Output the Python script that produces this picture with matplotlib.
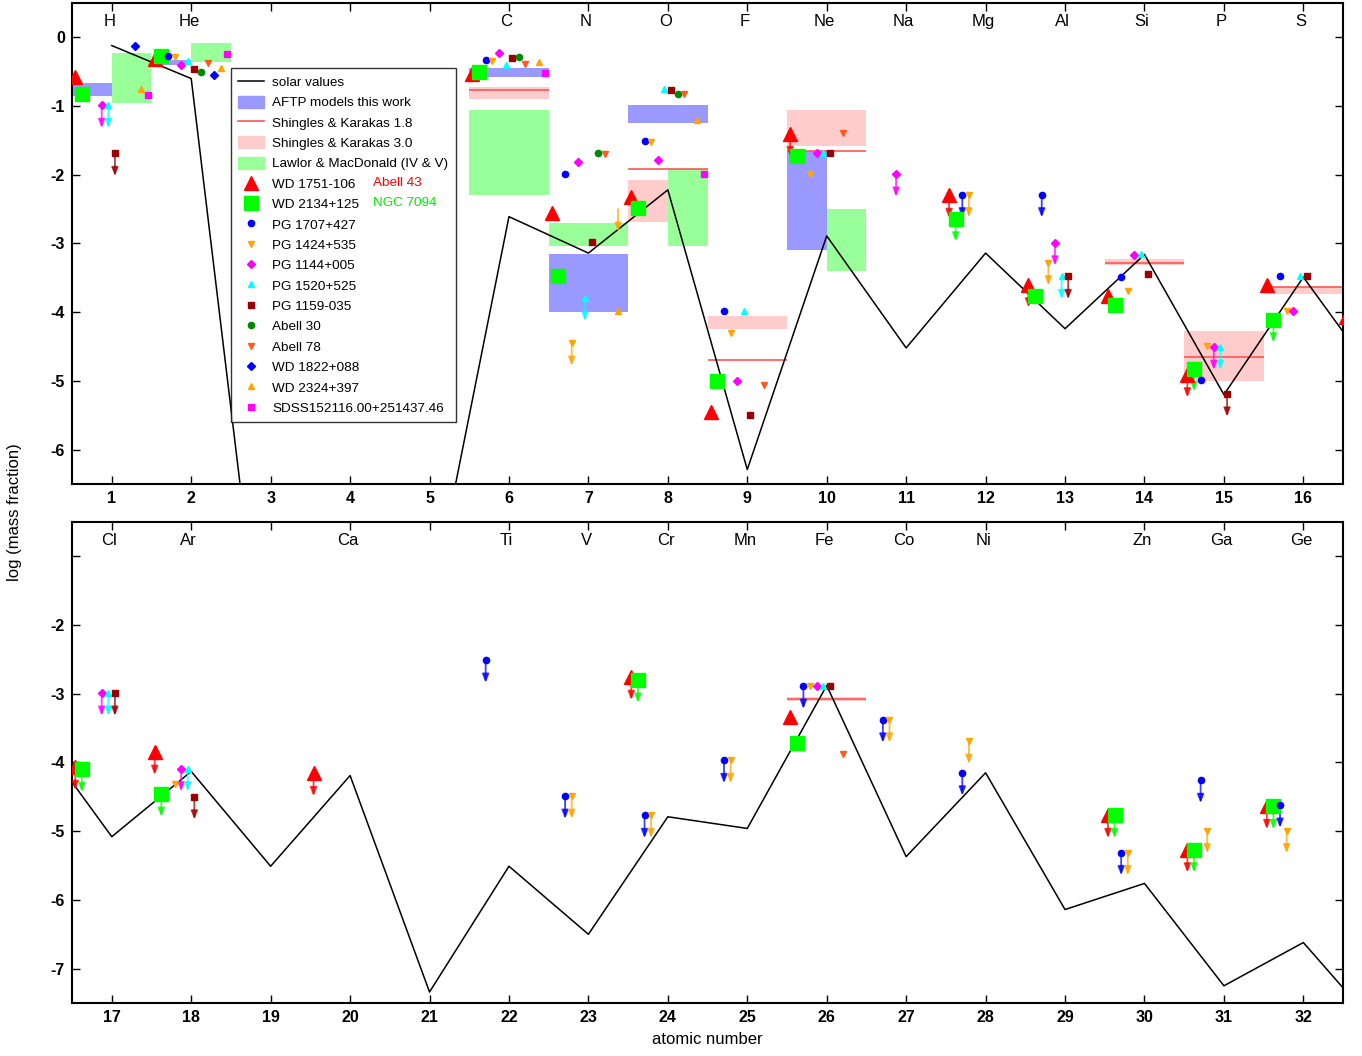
import matplotlib
matplotlib.use('Agg')
import matplotlib.pyplot as plt
from matplotlib.lines import Line2D
from matplotlib.patches import Patch

plt.rcParams['font.family'] = ['Liberation Sans', 'DejaVu Sans']

# solar values, Z = 1..33
solar_z = list(range(1, 34))
solar_logx = [-0.12, -0.60, -10.2, -9.8, -8.4, -2.61, -3.14, -2.22, -6.29, -2.89,
              -4.52, -3.14, -4.24, -3.16, -5.20, -3.49, -5.08, -4.13, -5.51, -4.19,
              -7.34, -5.51, -6.50, -4.79, -4.96, -2.88, -5.37, -4.15, -6.14, -5.76,
              -7.25, -6.62, -7.94]

top_names = {1: 'H', 2: 'He', 6: 'C', 7: 'N', 8: 'O', 9: 'F', 10: 'Ne', 11: 'Na',
             12: 'Mg', 13: 'Al', 14: 'Si', 15: 'P', 16: 'S'}
bottom_names = {17: 'Cl', 18: 'Ar', 20: 'Ca', 22: 'Ti', 23: 'V', 24: 'Cr', 25: 'Mn',
                26: 'Fe', 27: 'Co', 28: 'Ni', 30: 'Zn', 31: 'Ga', 32: 'Ge'}

# model ranges (Z, part of the cell, low, high)
aftp = [(1, 'left', -0.86, -0.66), (2, 'left', -0.41, -0.335), (6, 'full', -0.58, -0.44),
        (7, 'full', -4.0, -3.15), (8, 'full', -1.25, -0.98), (10, 'left', -3.1, -1.65)]
sk30 = [(6, 'full', -0.9, -0.73), (8, 'left', -2.69, -2.08), (9, 'full', -4.25, -4.06),
        (10, 'full', -1.58, -1.06), (14, 'full', -3.31, -3.22), (15, 'full', -5.0, -4.27),
        (16, 'full', -3.73, -3.64), (26, 'full', -3.11, -3.04)]
sk18 = [(6, -0.76), (8, -1.91), (9, -4.69), (10, -1.65), (14, -3.29), (15, -4.65),
        (16, -3.64), (26, -3.08)]
lawlor = [(1, 'right', -0.96, -0.23), (2, 'right', -0.36, -0.09), (6, 'full', -2.3, -1.06),
          (7, 'full', -3.04, -2.7), (8, 'right', -3.04, -1.92), (10, 'right', -3.4, -2.5)]

# observed abundances (Z, log mass fraction, upper limit)
wd1751 = [(1, -0.58, 0), (2, -0.32, 0), (6, -0.54, 0), (7, -2.56, 0), (8, -2.33, 0),
          (9, -5.45, 0), (10, -1.40, 1), (12, -2.30, 1), (13, -3.60, 1), (14, -3.76, 0),
          (15, -4.91, 1), (16, -3.60, 0), (17, -4.07, 1), (18, -3.85, 1), (20, -4.16, 1),
          (24, -2.76, 1), (26, -3.34, 0), (30, -4.77, 1), (31, -5.27, 1), (32, -4.64, 1)]
wd2134 = [(1, -0.83, 0), (2, -0.27, 0), (6, -0.50, 0), (7, -3.48, 0), (8, -2.48, 0),
          (9, -5.00, 0), (10, -1.72, 0), (12, -2.64, 1), (13, -3.76, 0), (14, -3.90, 0),
          (15, -4.82, 1), (16, -4.11, 1), (17, -4.10, 1), (18, -4.46, 1), (24, -2.80, 1),
          (26, -3.72, 0), (30, -4.77, 1), (31, -5.27, 1), (32, -4.64, 1)]
pg1707 = [(2, -0.27, 0), (6, -0.33, 0), (7, -1.99, 0), (8, -1.51, 0), (9, -3.99, 0),
          (12, -2.29, 1), (13, -2.29, 1), (14, -3.49, 0), (15, -4.98, 0), (16, -3.48, 0),
          (22, -2.51, 1), (23, -4.49, 1), (24, -4.77, 1), (25, -3.97, 1), (26, -2.89, 1),
          (27, -3.38, 1), (28, -4.15, 1), (30, -5.31, 1), (31, -4.26, 1), (32, -4.62, 1)]
pg1424 = [(2, -0.28, 0), (6, -0.34, 0), (7, -4.45, 1), (8, -1.52, 0), (9, -4.30, 0),
          (10, -1.99, 0), (12, -2.29, 1), (13, -3.28, 1), (14, -3.69, 0), (15, -4.49, 0),
          (16, -3.99, 0), (18, -4.31, 0), (23, -4.49, 1), (24, -4.77, 1), (25, -3.97, 1),
          (26, -2.89, 0), (27, -3.38, 1), (28, -3.69, 1), (30, -5.31, 1), (31, -4.99, 1),
          (32, -4.99, 1)]
pg1144 = [(1, -0.99, 1), (2, -0.41, 0), (6, -0.23, 0), (7, -1.81, 0), (8, -1.79, 0),
          (9, -5.00, 0), (10, -1.69, 0), (11, -1.99, 1), (13, -2.99, 1), (14, -3.17, 0),
          (15, -4.51, 1), (16, -3.99, 0), (17, -2.99, 1), (18, -4.09, 1), (26, -2.89, 0)]
pg1520 = [(1, -0.99, 1), (2, -0.35, 0), (6, -0.40, 0), (7, -3.80, 1), (8, -0.75, 0),
          (9, -3.98, 0), (10, -1.68, 0), (13, -3.48, 1), (14, -3.16, 0), (15, -4.51, 1),
          (16, -3.48, 0), (17, -2.99, 1), (18, -4.09, 1), (26, -2.89, 0)]
pg1159 = [(1, -1.69, 1), (2, -0.46, 0), (6, -0.30, 0), (7, -2.98, 0), (8, -0.76, 0),
          (9, -5.49, 0), (10, -1.69, 0), (13, -3.48, 1), (14, -3.44, 0), (15, -5.19, 1),
          (16, -3.48, 0), (17, -2.99, 1), (18, -4.50, 1), (26, -2.89, 0)]
abell30 = [(2, -0.50, 0), (6, -0.29, 0), (7, -1.69, 0), (8, -0.82, 0)]
abell78 = [(2, -0.37, 0), (6, -0.39, 0), (7, -1.70, 0), (8, -0.82, 0), (9, -5.06, 0),
           (10, -1.39, 0), (26, -3.87, 0)]
wd1822 = [(1, -0.13, 0), (2, -0.55, 0)]
wd2324 = [(1, -0.75, 0), (2, -0.44, 0), (6, -0.36, 0), (7, -3.98, 0), (8, -1.20, 0)]
wd2324_arrows = [(7, -2.50)]
sdss1521 = [(1, -0.84, 0), (2, -0.24, 0), (6, -0.52, 0), (8, -1.99, 0)]

stars = [
    ('WD 1751-106', wd1751, '^', '#ff0000', 10),
    ('WD 2134+125', wd2134, 's', '#00ff00', 10),
    ('PG 1707+427', pg1707, 'o', '#0000ff', 4.5),
    ('PG 1424+535', pg1424, 'v', '#ffa500', 4.5),
    ('PG 1144+005', pg1144, 'D', '#ff00ff', 4.5),
    ('PG 1520+525', pg1520, '^', '#00ffff', 4.5),
    ('PG 1159-035', pg1159, 's', '#990000', 5),
    ('Abell 30', abell30, 'o', '#008800', 4.5),
    ('Abell 78', abell78, 'v', '#ff5a1e', 4.5),
    ('WD 1822+088', wd1822, 'D', '#0000ff', 4.5),
    ('WD 2324+397', wd2324, '^', '#ffa500', 4.5),
    ('SDSS152116.00+251437.46', sdss1521, 's', '#ff00ff', 5),
]

c_aftp = '#9999ff'
c_sk30 = '#ffcccc'
c_sk18 = '#ff5555'
c_lawlor = '#99ff99'
arrow_len = 0.33


def cell(z, part):
    if part == 'left':
        return z - 0.5, z
    if part == 'right':
        return z, z + 0.5
    return z - 0.5, z + 0.5


def xpos(z, i):
    return z - 0.46 + i * 0.0833


def down_arrow(ax, x, y, color):
    ax.annotate('', xy=(x, y - arrow_len), xytext=(x, y),
                arrowprops=dict(arrowstyle='-|>,head_length=0.5,head_width=0.2',
                                color=color, lw=1.3, alpha=0.75, shrinkA=0, shrinkB=0),
                zorder=3)


fig = plt.figure(figsize=(13.62, 10.56), dpi=100)
ax1 = fig.add_axes([0.0529, 0.5417, 0.9332, 0.4555])
ax2 = fig.add_axes([0.0529, 0.0502, 0.9332, 0.4555])

panels = [(ax1, 0.5, 16.5, 0.5, -6.5, top_names),
          (ax2, 16.5, 32.5, -0.5, -7.5, bottom_names)]

for ax, x0, x1, ytop, ybot, names in panels:
    for z, part, lo, hi in aftp:
        a, b = cell(z, part)
        ax.fill_between([a, b], lo, hi, color=c_aftp, lw=0, zorder=1)
    for z, part, lo, hi in sk30:
        a, b = cell(z, part)
        ax.fill_between([a, b], lo, hi, color=c_sk30, lw=0, zorder=1)
    for z, part, lo, hi in lawlor:
        a, b = cell(z, part)
        ax.fill_between([a, b], lo, hi, color=c_lawlor, lw=0, zorder=1)
    for z, v in sk18:
        ax.hlines(v, z - 0.5, z + 0.5, color=c_sk18, lw=1.2, zorder=2)

    ax.plot(solar_z, solar_logx, color='black', lw=1.1, zorder=2)

    for i, (name, data, mk, col, ms) in enumerate(stars):
        xs = [xpos(z, i) for z, v, ul in data]
        ys = [v for z, v, ul in data]
        ax.plot(xs, ys, ls='none', marker=mk, color=col, ms=ms, mec=col, zorder=4)
        for z, v, ul in data:
            if ul and x0 < z < x1 + 0.5:
                down_arrow(ax, xpos(z, i), v, col)
    for z, v in wd2324_arrows:
        down_arrow(ax, xpos(z, 10), v, '#ffa500')

    for z, nm in names.items():
        ax.text(z - 0.03, 0.962, nm, transform=ax.get_xaxis_transform(), ha='center',
                va='center', fontsize=12)

    ax.set_xlim(x0, x1)
    ax.set_ylim(ybot, ytop)
    ax.set_xticks(range(int(x0 + 0.5), int(x1 + 0.5)))
    ax.tick_params(direction='in', top=True, right=True, length=6, width=1,
                   labelsize=11.5, pad=5)
    for lab in ax.get_xticklabels() + ax.get_yticklabels():
        lab.set_fontweight('bold')
    for sp in ax.spines.values():
        sp.set_linewidth(1.5)

ax1.set_yticks(range(0, -7, -1))
ax1.set_yticklabels([str(t) for t in range(0, -7, -1)], fontweight='bold')
ax2.set_yticks(range(-1, -8, -1))
ax2.set_yticklabels([''] + [str(t) for t in range(-2, -8, -1)], fontweight='bold')

ax2.set_xlabel('atomic number', fontsize=12, labelpad=5)
fig.text(0.011, 0.515, 'log (mass fraction)', rotation=90, ha='center', va='center',
         fontsize=12)

handles = [Line2D([], [], color='black', lw=1.1),
           Patch(color=c_aftp),
           Line2D([], [], color=c_sk18, lw=1.2),
           Patch(color=c_sk30),
           Patch(color=c_lawlor)]
labels = ['solar values', 'AFTP models this work', 'Shingles & Karakas 1.8',
          'Shingles & Karakas 3.0', 'Lawlor & MacDonald (IV & V)']
for name, data, mk, col, ms in stars:
    handles.append(Line2D([], [], ls='none', marker=mk, color=col, ms=ms))
    labels.append(name)

leg = ax1.legend(handles, labels, loc='upper left', bbox_to_anchor=(0.125, 0.865),
                 borderaxespad=0, fontsize=9.7, frameon=True, fancybox=False,
                 handlelength=1.9, handleheight=1.0, handletextpad=0.6,
                 labelspacing=0.5, borderpad=0.55)
leg.get_frame().set_edgecolor('black')
leg.get_frame().set_linewidth(1.0)
leg.set_zorder(6)

fig.text(373 / 1362, 1 - 183 / 1056, 'Abell 43', color='#ff0000', fontsize=9.7,
         va='center', zorder=7)
fig.text(373 / 1362, 1 - 203 / 1056, 'NGC 7094', color='#00ee00', fontsize=9.7,
         va='center', zorder=7)

fig.savefig('out.png', dpi=100)
